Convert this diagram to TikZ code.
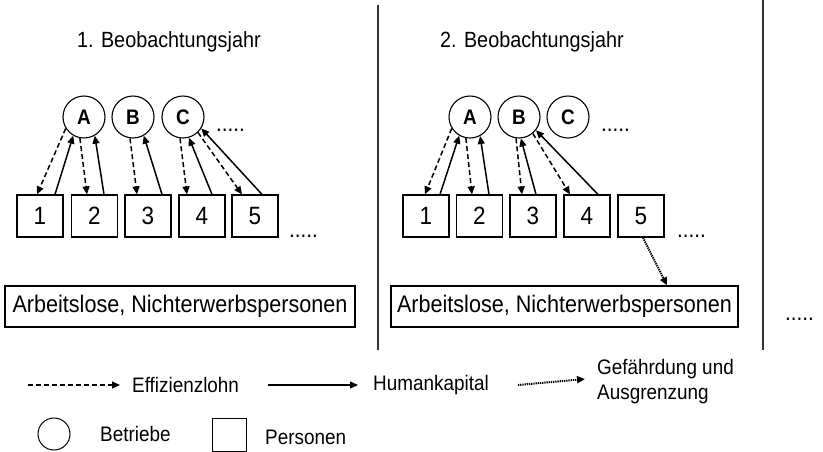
\documentclass[tikz,border=0pt]{standalone}
\usepackage{fontspec}
\setmainfont[FakeStretch=0.9]{Liberation Sans}
\usetikzlibrary{arrows.meta}
\begin{document}
\begin{tikzpicture}[x=1pt,y=-1pt,
  firm/.style={circle,draw,line width=1.1pt,minimum size=42pt,inner sep=0pt,font=\fontsize{21}{21}\selectfont\bfseries},
  person/.style={rectangle,draw,line width=1.2pt,minimum width=46pt,minimum height=42pt,inner sep=0pt,font=\fontsize{25}{25}\selectfont},
  pool/.style={rectangle,draw,line width=1.2pt,minimum height=41pt,inner sep=0pt,font=\fontsize{24}{24}\selectfont},
  title/.style={font=\fontsize{22}{22}\selectfont,inner sep=0pt,anchor=west},
  legend/.style={font=\fontsize{21}{25}\selectfont,inner sep=0pt,anchor=west,align=left},
  dots/.style={font=\fontsize{23}{23}\selectfont,inner sep=0pt},
  tip/.style={-{Triangle[length=8pt,width=7pt]}},
  wage/.style={tip,line width=1.5pt,dash pattern=on 5pt off 3pt},
  skill/.style={tip,line width=1.5pt},
  risk/.style={tip,line width=2pt,dash pattern=on 1.3pt off 0.9pt},
  divider/.style={line width=1.6pt,black!80}]
\useasboundingbox (0,0) rectangle (823,451);

% column dividers
\coordinate (d1t) at (378,5);   \coordinate (d1b) at (378,350);
\coordinate (d2t) at (763,0);   \coordinate (d2b) at (763,350);
\draw[divider] (d1t) -- (d1b);
\draw[divider] (d2t) -- (d2b);

% headings
\node[title] (t1) at (77,42) {1. Beobachtungsjahr};
\node[title] (t2) at (440,42) {2. Beobachtungsjahr};

% ---------- year 1 ----------
\node[firm] (A1) at (84,117) {A};
\node[firm] (B1) at (133,117) {B};
\node[firm] (C1) at (183,117) {C};
\node[dots,anchor=base west] (f1) at (216,131) {.....};

\node[person] (p11) at (40,216) {1};
\node[person] (p12) at (94.5,216) {2};
\node[person] (p13) at (148,216) {3};
\node[person] (p14) at (202,216) {4};
\node[person] (p15) at (255,216) {5};
\node[dots,anchor=base west] (q1) at (289,237) {.....};

\node[pool,minimum width=350pt] (u1) at (180,306.5) {Arbeitslose, Nichterwerbspersonen};

\draw[wage]  (A1.212) -- ([xshift=-3pt]p11.north);
\draw[skill] ([xshift=15pt]p11.north) -- (A1.240);
\draw[wage]  (A1.259) -- ([xshift=-7.5pt]p12.north);
\draw[skill] ([xshift=9.5pt]p12.north) -- (A1.300);
\draw[wage]  (B1.262) -- ([xshift=-11pt]p13.north);
\draw[skill] ([xshift=14pt]p13.north) -- (B1.300);
\draw[wage]  (C1.262) -- ([xshift=-15pt]p14.north);
\draw[skill] ([xshift=10pt]p14.north) -- (C1.286);
\draw[wage]  (C1.314) -- ([xshift=-13pt]p15.north);
\draw[skill] ([xshift=7pt]p15.north) -- (C1.328);

% ---------- year 2 ----------
\node[firm] (A2) at (470,117) {A};
\node[firm] (B2) at (519,117) {B};
\node[firm] (C2) at (568,117) {C};
\node[dots,anchor=base west] (f2) at (601,131) {.....};

\node[person] (p21) at (426,216) {1};
\node[person] (p22) at (479.5,216) {2};
\node[person] (p23) at (533,216) {3};
\node[person] (p24) at (587,216) {4};
\node[person] (p25) at (641,216) {5};
\node[dots,anchor=base west] (q2) at (677,237) {.....};

\node[pool,minimum width=347pt] (u2) at (564.5,306.5) {Arbeitslose, Nichterwerbspersonen};

\draw[wage]  (A2.212) -- ([xshift=-1pt]p21.north);
\draw[skill] ([xshift=14pt]p21.north) -- (A2.240);
\draw[wage]  (A2.259) -- ([xshift=-7.5pt]p22.north);
\draw[skill] ([xshift=9.5pt]p22.north) -- (A2.298);
\draw[wage]  (B2.262) -- ([xshift=-11pt]p23.north);
\draw[skill] ([xshift=3pt]p23.north) -- (B2.275);
\draw[wage]  (B2.310) -- ([xshift=-17pt]p24.north);
\draw[skill] ([xshift=11pt]p24.north) -- (B2.322);
\draw[risk]  ([xshift=2pt]p25.south) -- ([xshift=102.5pt]u2.north);

\node[dots,anchor=base west] (f3) at (785,320) {.....};

% ---------- legend ----------
\coordinate (lw) at (28,385);
\node[legend] (lwt) at (132,385) {Effizienzlohn};
\draw[wage] (lw) -- ([xshift=-12pt]lwt.west);

\coordinate (ls) at (268,385);
\node[legend] (lst) at (373,385) {Humankapital};
\draw[skill] (ls) -- ([xshift=-15pt]lst.west);

\coordinate (lr) at (518,385);
\node[legend] (lrt) at (597,382) {Gefährdung und\\Ausgrenzung};
\draw[risk] (lr) -- ([xshift=-12pt,yshift=3pt]lrt.west);

\node[circle,draw,line width=1pt,minimum size=32pt,inner sep=0pt] (lf) at (54,434) {};
\node[legend] (lft) at (100,434) {Betriebe};
\node[rectangle,draw,line width=1pt,minimum width=34pt,minimum height=33pt,inner sep=0pt] (lp) at (229,434.5) {};
\node[legend] (lpt) at (265,437) {Personen};
\end{tikzpicture}
\end{document}
